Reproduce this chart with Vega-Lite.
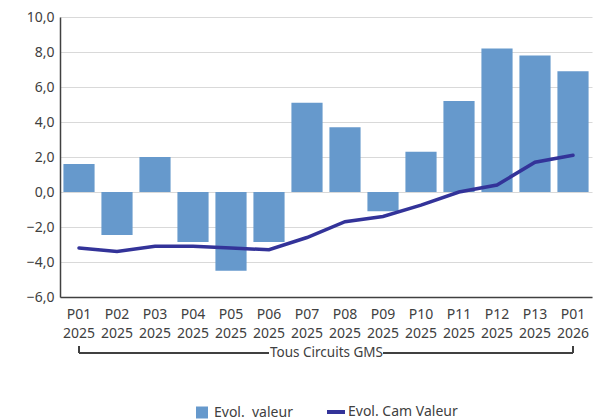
{
  "$schema": "https://vega.github.io/schema/vega-lite/v6.json",
  "width": 532,
  "height": 280,
  "autosize": "none",
  "padding": {"left": 60, "top": 17, "right": 3, "bottom": 123},
  "background": "white",
  "config": {
    "view": {"stroke": null},
    "font": "Noto Sans",
    "axis": {"labelFont": "Noto Sans", "titleFont": "Noto Sans"},
    "legend": {"labelFont": "Noto Sans"}
  },
  "data": {
    "values": [
      {"periode": "P01 2025", "valeur": 1.6, "cam": -3.2},
      {"periode": "P02 2025", "valeur": -2.45, "cam": -3.4},
      {"periode": "P03 2025", "valeur": 2.0, "cam": -3.1},
      {"periode": "P04 2025", "valeur": -2.85, "cam": -3.1},
      {"periode": "P05 2025", "valeur": -4.5, "cam": -3.2},
      {"periode": "P06 2025", "valeur": -2.85, "cam": -3.3},
      {"periode": "P07 2025", "valeur": 5.1, "cam": -2.6},
      {"periode": "P08 2025", "valeur": 3.7, "cam": -1.7},
      {"periode": "P09 2025", "valeur": -1.1, "cam": -1.4},
      {"periode": "P10 2025", "valeur": 2.3, "cam": -0.75},
      {"periode": "P11 2025", "valeur": 5.2, "cam": 0.0},
      {"periode": "P12 2025", "valeur": 8.2, "cam": 0.4},
      {"periode": "P13 2025", "valeur": 7.8, "cam": 1.7},
      {"periode": "P01 2026", "valeur": 6.9, "cam": 2.1}
    ]
  },
  "encoding": {
    "x": {
      "field": "periode",
      "type": "ordinal",
      "sort": null,
      "scale": {"paddingInner": 0.18, "paddingOuter": 0.09},
      "axis": {
        "title": "Tous Circuits GMS",
        "titleFontSize": 13.5,
        "titleFontWeight": "normal",
        "titleColor": "#404040",
        "titlePadding": 5,
        "labelExpr": "split(datum.label, ' ')",
        "labelAngle": 0,
        "labelFontSize": 14,
        "labelColor": "#404040",
        "labelPadding": 10,
        "labelLineHeight": 19,
        "labelOverlap": false,
        "ticks": false,
        "domainColor": "#404040",
        "domainWidth": 1.5,
        "grid": false
      }
    }
  },
  "layer": [
    {
      "mark": {"type": "bar", "color": "#6699cc"},
      "encoding": {
        "y": {
          "field": "valeur",
          "type": "quantitative",
          "scale": {"domain": [-6, 10], "nice": false, "zero": false},
          "axis": {
            "title": null,
            "values": [-6, -4, -2, 0, 2, 4, 6, 8, 10],
            "tickCount": 9,
            "labelOverlap": false,
            "labelExpr": "replace(format(datum.value, '.1f'), '.', ',')",
            "labelFontSize": 14,
            "labelColor": "#404040",
            "labelPadding": 6,
            "ticks": false,
            "domainColor": "#404040",
            "domainWidth": 1.5,
            "gridColor": "#d9d9d9",
            "gridWidth": 1.2
          }
        },
        "color": {
          "datum": "Evol.\u00a0 valeur",
          "type": "nominal",
          "scale": {"domain": ["Evol.\u00a0 valeur", "Evol. Cam Valeur"], "range": ["#6699cc", "#333399"]},
          "legend": {
            "title": null,
            "orient": "none",
            "direction": "horizontal",
            "legendX": 135,
            "legendY": 388,
            "labelFontSize": 14,
            "labelColor": "#404040",
            "columnPadding": 26,
            "labelOffset": 5,
            "symbolSize": 144,
            "symbolType": "square",
            "symbolStrokeWidth": 0,
            "encode": {
              "symbols": {
                "update": {
                  "shape": {"signal": "datum.label == 'Evol. Cam Valeur' ? 'stroke' : 'square'"},
                  "size": {"signal": "datum.label == 'Evol. Cam Valeur' ? 324 : 144"},
                  "strokeWidth": {"signal": "datum.label == 'Evol. Cam Valeur' ? 4 : 0"},
                  "stroke": {"signal": "datum.label == 'Evol. Cam Valeur' ? '#333399' : null"},
                  "fill": {"signal": "datum.label == 'Evol. Cam Valeur' ? null : '#6699cc'"},
                  "opacity": {"value": 1}
                }
              }
            }
          }
        }
      }
    },
    {
      "mark": {"type": "line", "strokeWidth": 3.5, "strokeCap": "round"},
      "encoding": {
        "y": {
          "field": "cam",
          "type": "quantitative",
          "axis": {
            "title": null,
            "values": [-6, -4, -2, 0, 2, 4, 6, 8, 10],
            "tickCount": 9,
            "labelOverlap": false,
            "labelExpr": "replace(format(datum.value, '.1f'), '.', ',')",
            "labelFontSize": 14,
            "labelColor": "#404040",
            "labelPadding": 6,
            "ticks": false,
            "domainColor": "#404040",
            "domainWidth": 1.5,
            "gridColor": "#d9d9d9",
            "gridWidth": 1.2
          }
        },
        "color": {"datum": "Evol. Cam Valeur", "type": "nominal"}
      }
    },
    {
      "mark": {"type": "rule", "color": "#404040", "strokeWidth": 1},
      "encoding": {
        "x": {"datum": "P01 2025"},
        "x2": {"datum": "P06 2025"},
        "y": {"datum": -9.2, "type": "quantitative"},
        "x2Offset": -10
      }
    },
    {
      "mark": {"type": "rule", "color": "#404040", "strokeWidth": 1},
      "encoding": {
        "x": {"datum": "P09 2025"},
        "x2": {"datum": "P01 2026"},
        "y": {"datum": -9.2, "type": "quantitative"},
        "xOffset": 10
      }
    },
    {
      "mark": {"type": "rule", "color": "#404040", "strokeWidth": 1},
      "encoding": {
        "x": {"datum": "P01 2025"},
        "y": {"datum": -8.8, "type": "quantitative"},
        "y2": {"datum": -9.2}
      }
    },
    {
      "mark": {"type": "rule", "color": "#404040", "strokeWidth": 1},
      "encoding": {
        "x": {"datum": "P01 2026"},
        "y": {"datum": -8.8, "type": "quantitative"},
        "y2": {"datum": -9.2}
      }
    }
  ]
}
